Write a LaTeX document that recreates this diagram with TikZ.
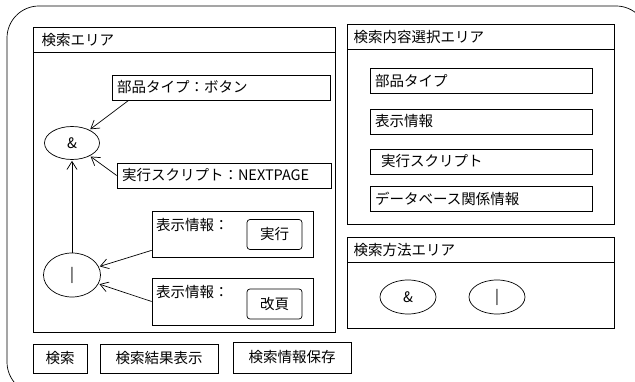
\documentclass[tikz,border=0pt]{standalone}
\usepackage{fontspec}
\setmainfont{Noto Sans CJK JP}
\usetikzlibrary{arrows.meta, shapes.geometric, positioning, calc}

\tikzset{
  area/.style={draw, line width=0.7pt},
  box/.style={draw, line width=0.7pt, inner xsep=5pt, inner ysep=0pt, minimum height=25pt, text width=#1, align=left},
  btn/.style={draw, line width=0.7pt, minimum height=29pt, inner xsep=6pt},
  key/.style={draw, line width=0.7pt, rounded corners=3pt, minimum width=55pt, minimum height=30pt},
  op/.style={draw, ellipse, line width=0.7pt, inner sep=0pt},
  link/.style={line width=0.7pt, -{Straight Barb[length=8pt,width=10pt]}, shorten >=1pt},
}

\begin{document}
\begin{tikzpicture}[x=1pt, y=-1pt, font=\fontsize{14.5}{16}\selectfont]
  \def\hd{25}
  \useasboundingbox (0,0) rectangle (635,382);
  \begin{scope}
    \clip (0,0) rectangle (635,382);
    \draw[line width=0.7pt, rounded corners=32pt] (7,6) rectangle (648,394);
  \end{scope}

  % search area
  \draw[area] (33,27) rectangle (335,332);
  \draw[area] (33,27+\hd) -- (335,27+\hd);
  \node[anchor=west] (srch) at (38,40) {検索エリア};

  \node[box=208pt] (parts) at (221,87.5) {部品タイプ：ボタン};
  \node[box=204pt] (exec) at (224,175.5) {実行スクリプト：NEXTPAGE};
  \node[op, minimum width=55pt, minimum height=33pt] (and) at (72,143) {\&};
  \node[op, minimum width=57pt, minimum height=44pt] (or) at (72,275) {|};

  \node[box=151pt, minimum height=46pt] (disp1) at (232.5,234) {};
  \node[anchor=west] (disp1t) at ([xshift=1pt, yshift=-14pt]disp1.north west) {表示情報：};
  \node[key] (run) at (274.5,234.5) {実行};
  \node[box=151pt, minimum height=47pt] (disp2) at (232.5,301.5) {};
  \node[anchor=west] (disp2t) at ([xshift=1pt, yshift=-14pt]disp2.north west) {表示情報：};
  \node[key] (page) at (274.5,304) {改頁};

  \draw[link] ([xshift=17pt]parts.south west) -- (and);
  \draw[link] (exec.west) -- (and);
  \draw[link] (or) -- (and);
  \draw[link] ([yshift=7pt]disp1.south west) -- (or);
  \draw[link] (disp2.west) -- (or);

  % buttons
  \node[btn, minimum width=54pt] (find) at (60,358.5) {検索};
  \node[btn, minimum width=118pt] (show) at (159,358.5) {検索結果表示};
  \node[btn, minimum width=118pt, minimum height=31pt] (save) at (292,357.5) {検索情報保存};

  % select area
  \draw[area] (347,24) rectangle (614,224);
  \draw[area] (347,24+\hd) -- (614,24+\hd);
  \node[anchor=west] (sel) at (350,37) {検索内容選択エリア};
  \node[box=212pt] (kind) at (481,81) {部品タイプ};
  \node[box=212pt] (info) at (481,121.5) {表示情報};
  \node[box=212pt] (script) at (481,161.5) {\hspace{6pt}実行スクリプト};
  \node[box=212pt] (dbinfo) at (481,199) {データベース関係情報};

  % method area
  \draw[area] (347,237) rectangle (614,328);
  \draw[area] (347,237+\hd) -- (614,237+\hd);
  \node[anchor=west] (meth) at (350,250) {検索方法エリア};
  \node[op, minimum width=56pt, minimum height=34pt] (mand) at (408,297) {\&};
  \node[op, minimum width=56pt, minimum height=34pt] (mor) at (497,297) {|};
\end{tikzpicture}
\end{document}
